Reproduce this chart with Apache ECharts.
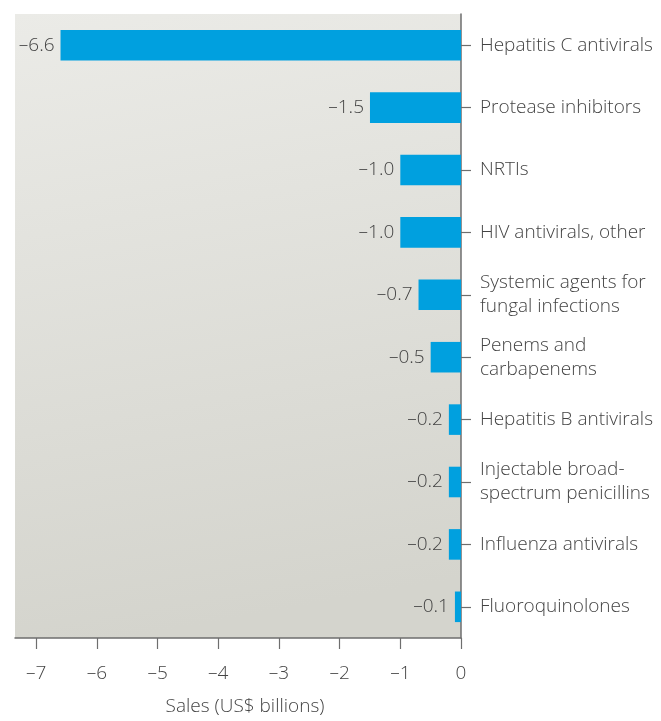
<!DOCTYPE html>
<html>
<head>
<meta charset="utf-8">
<script src="https://cdn.jsdelivr.net/npm/echarts@6/dist/echarts.min.js"></script>
<style>
  html, body { margin: 0; padding: 0; background: #fff; }
  #chart { width: 661px; height: 721px; }
</style>
</head>
<body>
<div id="chart"></div>
<script>
// Therapy classes, top to bottom
const categories = [
  'Hepatitis C antivirals',
  'Protease inhibitors',
  'NRTIs',
  'HIV antivirals, other',
  'Systemic agents for\nfungal infections',
  'Penems and\ncarbapenems',
  'Hepatitis B antivirals',
  'Injectable broad-\nspectrum penicillins',
  'Influenza antivirals',
  'Fluoroquinolones'
];
// Change in sales, US$ billions
const salesChange = [-6.6, -1.5, -1.0, -1.0, -0.7, -0.5, -0.2, -0.2, -0.2, -0.1];
// Tick positions along the sales axis
const tickValues = [-7, -6, -5, -4, -3, -2, -1, 0];

const dash = '\u2013';
const fmt = (v, d) => (v < 0 ? dash : '') + Math.abs(v).toFixed(d);
const textColor = '#444';
const font = '"Open Sans", "Noto Sans", sans-serif';
const fontWeight = 300;
const fontSize = 19;

const chart = echarts.init(document.getElementById('chart'), null, { renderer: 'canvas' });
chart.setOption({
  animation: false,
  textStyle: { fontFamily: font },
  grid: {
    left: 15, right: 200, top: 14, bottom: 77,
    show: true,
    borderWidth: 0,
    backgroundColor: new echarts.graphic.LinearGradient(0, 0, 0.25, 1, [
      { offset: 0, color: '#ebebe7' },
      { offset: 1, color: '#d4d4cd' }
    ])
  },
  xAxis: {
    type: 'value',
    min: -7.35,
    max: 0,
    splitLine: { show: false },
    axisLine: { show: true, lineStyle: { color: '#6e6e6e', width: 1.5 } },
    axisTick: { show: true, length: 11, lineStyle: { color: '#6e6e6e', width: 1.2 }, customValues: tickValues },
    axisLabel: {
      customValues: tickValues,
      margin: 26,
      color: textColor,
      fontSize: fontSize,
      fontWeight: fontWeight,
      fontFamily: font,
      formatter: v => fmt(v, 0)
    },
    name: 'Sales (US$ billions)',
    nameLocation: 'middle',
    nameGap: 59,
    nameTextStyle: { color: textColor, fontSize: fontSize, fontWeight: fontWeight, fontFamily: font, padding: [0, 0, 0, 14] }
  },
  yAxis: {
    type: 'category',
    data: categories,
    inverse: true,
    position: 'right',
    axisLine: { show: true, onZero: false, lineStyle: { color: '#6e6e6e', width: 1.5 } },
    axisTick: { show: true, length: 10, alignWithLabel: true, lineStyle: { color: '#6e6e6e', width: 1.2 } },
    axisLabel: {
      margin: 19,
      color: textColor,
      fontSize: fontSize,
      fontWeight: fontWeight,
      lineHeight: 24,
      fontFamily: font
    }
  },
  series: [{
    type: 'bar',
    data: salesChange,
    barWidth: '49%',
    itemStyle: { color: '#00a0df' },
    label: {
      show: true,
      position: 'left',
      distance: 6,
      color: textColor,
      fontSize: fontSize,
      fontWeight: fontWeight,
      fontFamily: font,
      formatter: p => fmt(p.value, 1)
    }
  }]
});
</script>
</body>
</html>
